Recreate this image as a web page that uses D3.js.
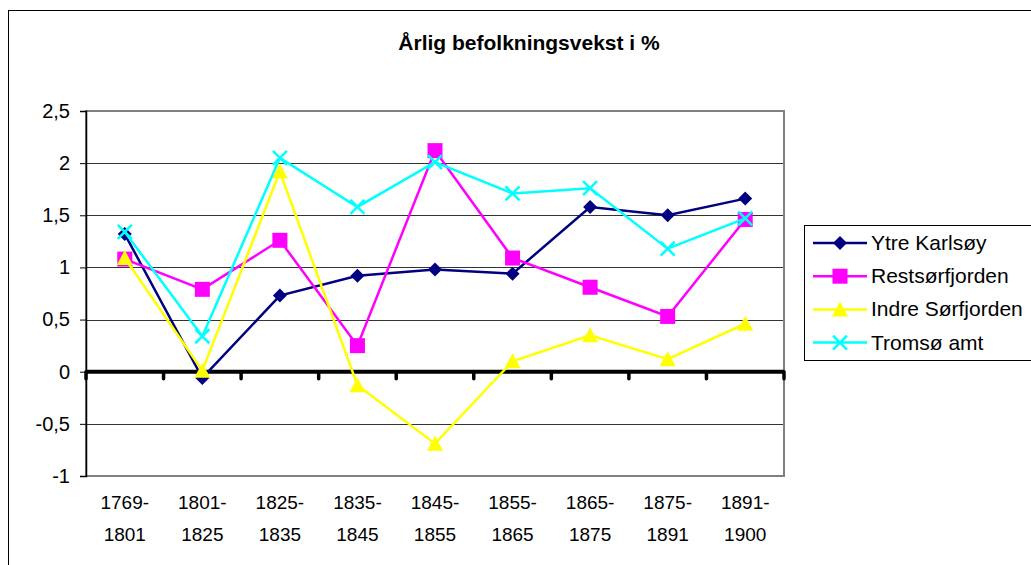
<!DOCTYPE html>
<html>
<head>
<meta charset="utf-8">
<script src="https://cdn.jsdelivr.net/npm/d3@7"></script>
<style>
  body { margin: 0; background: #fff; }
  text { font-family: "Liberation Sans", Arial, sans-serif; }
</style>
</head>
<body>
<script>
var categories = [['1769-', '1801'], ['1801-', '1825'], ['1825-', '1835'], ['1835-', '1845'],
                  ['1845-', '1855'], ['1855-', '1865'], ['1865-', '1875'], ['1875-', '1891'],
                  ['1891-', '1900']];

var ytreKarlsoy      = [1.32, -0.06, 0.73, 0.92, 0.98, 0.94, 1.58, 1.50, 1.66];
var restsorfjorden   = [1.08, 0.79, 1.26, 0.25, 2.12, 1.09, 0.81, 0.53, 1.46];
var indreSorfjorden  = [1.09, 0.01, 1.92, -0.13, -0.69, 0.10, 0.35, 0.12, 0.46];
var tromsoAmt        = [1.34, 0.34, 2.05, 1.58, 2.01, 1.71, 1.76, 1.18, 1.47];

var yTicks = [-1, -0.5, 0, 0.5, 1, 1.5, 2, 2.5];

var series = [
  { name: 'Ytre Karlsøy',    values: ytreKarlsoy,     color: '#000080', symbol: 'diamond' },
  { name: 'Restsørfjorden',  values: restsorfjorden,  color: '#FF00FF', symbol: 'square' },
  { name: 'Indre Sørfjorden', values: indreSorfjorden, color: '#FFFF00', symbol: 'triangle' },
  { name: 'Tromsø amt',      values: tromsoAmt,       color: '#00FFFF', symbol: 'cross' }
];

var WIDTH  = 1031;
var HEIGHT = 565;
var plot = { left: 86, top: 111, right: 784, bottom: 476 };

var svg = d3.select('body')
            .append('svg')
            .attr('width', WIDTH)
            .attr('height', HEIGHT);

// outer chart border (cropped at right and bottom)
svg.append('rect')
   .attr('x', 8.5).attr('y', 10.5)
   .attr('width', 1040).attr('height', 600)
   .attr('fill', 'white')
   .attr('stroke', 'black').attr('stroke-width', 1);

svg.append('text')
   .attr('x', 529).attr('y', 50)
   .attr('text-anchor', 'middle')
   .attr('font-size', 21).attr('font-weight', 'bold')
   .text('Årlig befolkningsvekst i %');

var x = d3.scaleBand()
          .domain(d3.range(categories.length))
          .range([plot.left, plot.right]);

var y = d3.scaleLinear()
          .domain([-1, 2.5])
          .range([plot.bottom, plot.top]);

// gridlines
svg.append('g')
   .selectAll('line')
   .data(yTicks.filter(function(d) { return d !== 0 && d !== -1 && d !== 2.5; }))
   .enter()
 .append('line')
   .attr('x1', plot.left).attr('x2', plot.right)
   .attr('y1', function(d) { return Math.round(y(d)) + 0.5; })
   .attr('y2', function(d) { return Math.round(y(d)) + 0.5; })
   .attr('stroke', '#333').attr('stroke-width', 1);

// plot area border (gray)
svg.append('rect')
   .attr('x', plot.left).attr('y', plot.top)
   .attr('width', plot.right - plot.left).attr('height', plot.bottom - plot.top)
   .attr('fill', 'none')
   .attr('stroke', '#808080').attr('stroke-width', 2);

// y axis
var yAxis = d3.axisLeft(y)
              .tickValues(yTicks)
              .tickSize(6)
              .tickFormat(function(d) { return String(d).replace('.', ','); });

var yg = svg.append('g')
            .attr('transform', 'translate(' + plot.left + ',0)')
            .call(yAxis);
yg.select('.domain').attr('stroke', '#000').attr('stroke-width', 1.5);
yg.selectAll('.tick line').attr('stroke', '#000');
yg.selectAll('.tick text')
  .attr('x', -16)
  .attr('font-size', 20)
  .attr('font-family', '"Liberation Sans", Arial, sans-serif')
  .attr('fill', '#000');

// zero line (x axis) with tick marks at category boundaries
var boundaries = d3.range(categories.length + 1).map(function(i) {
  return i < categories.length ? x(i) : plot.right;
});

svg.append('line')
   .attr('x1', plot.left).attr('x2', plot.right)
   .attr('y1', y(0)).attr('y2', y(0))
   .attr('stroke', '#000').attr('stroke-width', 4);

svg.append('g')
   .selectAll('line')
   .data(boundaries)
   .enter()
 .append('line')
   .attr('x1', function(d) { return d; })
   .attr('x2', function(d) { return d; })
   .attr('y1', y(0))
   .attr('y2', y(0) + 7)
   .attr('stroke', '#000').attr('stroke-width', 3.5)
   .attr('stroke-linecap', 'round');

// category labels
var catLabels = svg.append('g')
   .selectAll('text')
   .data(categories)
   .enter()
 .append('text')
   .attr('text-anchor', 'middle')
   .attr('font-size', 19)
   .attr('transform', function(d, i) { return 'translate(' + (x(i) + x.bandwidth() / 2) + ',0)'; });

catLabels.append('tspan').attr('x', 0).attr('y', 509).text(function(d) { return d[0]; });
catLabels.append('tspan').attr('x', 0).attr('y', 541).text(function(d) { return d[1]; });

function cx(i) { return x(i) + x.bandwidth() / 2; }

function drawSymbol(g, type, color, px, py) {
  if (type === 'diamond') {
    g.append('path')
     .attr('d', 'M' + px + ',' + (py - 7) + 'L' + (px + 7) + ',' + py + 'L' + px + ',' + (py + 7) + 'L' + (px - 7) + ',' + py + 'Z')
     .attr('fill', color);
  } else if (type === 'square') {
    g.append('rect')
     .attr('x', px - 7.5).attr('y', py - 7.5)
     .attr('width', 15).attr('height', 15)
     .attr('fill', color);
  } else if (type === 'triangle') {
    g.append('path')
     .attr('d', 'M' + px + ',' + (py - 8) + 'L' + (px + 8) + ',' + (py + 7) + 'L' + (px - 8) + ',' + (py + 7) + 'Z')
     .attr('fill', color);
  } else {
    g.append('path')
     .attr('d', 'M' + (px - 7) + ',' + (py - 7) + 'L' + (px + 7) + ',' + (py + 7) + 'M' + (px + 7) + ',' + (py - 7) + 'L' + (px - 7) + ',' + (py + 7))
     .attr('stroke', color).attr('stroke-width', 2.5).attr('fill', 'none');
  }
}

var line = d3.line()
             .x(function(d, i) { return cx(i); })
             .y(function(d) { return y(d); });

series.forEach(function(s) {
  var g = svg.append('g');
  g.append('path')
   .datum(s.values)
   .attr('d', line)
   .attr('fill', 'none')
   .attr('stroke', s.color)
   .attr('stroke-width', 2.5);
  s.values.forEach(function(v, i) {
    drawSymbol(g, s.symbol, s.color, cx(i), y(v));
  });
});

// legend
var legend = svg.append('g');
legend.append('rect')
      .attr('x', 804.5).attr('y', 225.5)
      .attr('width', 240).attr('height', 135)
      .attr('fill', 'white')
      .attr('stroke', '#000').attr('stroke-width', 1);

series.forEach(function(s, i) {
  var ly = 243 + i * 33.2;
  legend.append('line')
        .attr('x1', 813).attr('x2', 867)
        .attr('y1', ly).attr('y2', ly)
        .attr('stroke', s.color).attr('stroke-width', 2.5);
  drawSymbol(legend, s.symbol, s.color, 840, ly);
  legend.append('text')
        .attr('x', 871).attr('y', ly + 7)
        .attr('font-size', 21)
        .text(s.name);
});
</script>
</body>
</html>
